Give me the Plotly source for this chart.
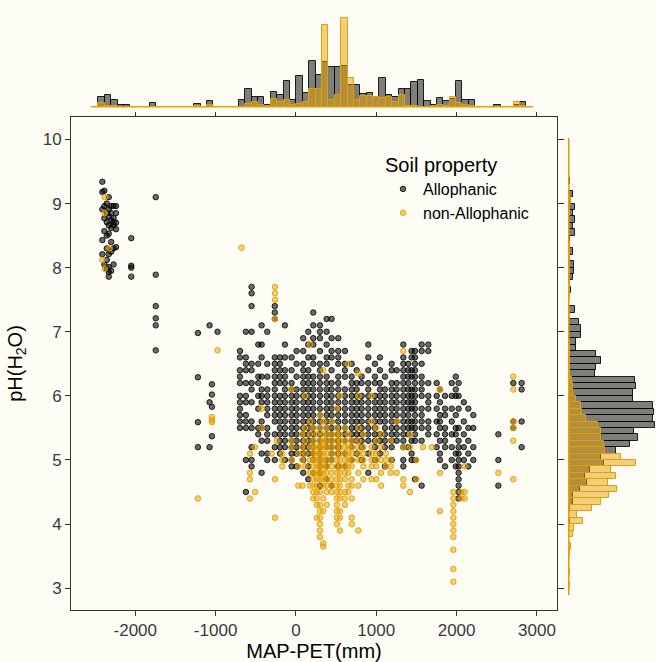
import plotly.graph_objects as go

# ---------------- data ----------------
# Scatter: each column = one MAP-PET value (mm) with the pH(H2O) values observed there
allo_col_x = [-2410, -2385, -2355, -2330, -2300, -2270, -2240, -2050, -1745, -1220, -1075, -1046, -976,
              -697, -623, -552, -469, -427, -357, -263, -199, -137, -54, 8, 91, 154, 216, 299, 382, 444,
              527, 610, 694, 756, 818, 901, 984, 1046, 1108, 1192, 1254, 1337, 1399, 1440, 1482, 1565,
              1648, 1752, 1793, 1856, 1940, 1990, 2025, 2090, 2146, 2208, 2520, 2706, 2810]
allo_col_y = [
    "9.34 9.18 8.91 8.43 8.21",
    "9.20 8.96 8.77 8.57 8.05",
    "9.00 8.85 8.71 8.50 8.30 8.12 7.98",
    "9.10 8.91 8.80 8.66 8.53 8.21 8.01 7.93 7.86",
    "8.96 8.85 8.74 8.62 8.40 8.25 7.95",
    "8.96 8.77 8.71 8.66 8.30 8.05",
    "8.96 8.85 8.70 8.60 8.32",
    "8.46 8.03 8.00 7.86",
    "9.10 7.89 7.40 7.21 7.10 6.71",
    "6.98 6.29 5.59 5.20",
    "7.10 5.90 5.20",
    "6.18 6.02 5.83 5.37",
    "7.00",
    "6.7 6.6 6.4 6.3 6.2 6.0 5.9 5.8 5.7 5.6 5.5",
    "7.0 6.6 6.5 6.4 6.2 6.0 5.9 5.7 5.6 5.5 5.0 4.5",
    "7.7 7.6 7.4 7.0 6.5 6.4 6.2 6.1 5.9 5.6 5.5 5.2 5.0 4.9",
    "6.8 6.5 6.3 6.2 6.0 5.8 5.5 5.4",
    "7.1 6.8 6.6 6.3 6.1 6.0 5.9 5.6 5.5 5.3 5.1 4.8",
    "7.0 6.5 6.3 6.1 6.0 5.9 5.8 5.7 5.5 5.4 5.3 5.1 5.0",
    "7.4 7.3 7.2 6.6 6.5 6.4 6.3 6.2 6.1 6.0 5.9 5.8 5.7 5.6 5.4 5.2 5.0",
    "6.6 6.5 6.4 6.3 6.2 6.0 5.9 5.8 5.7 5.6 5.5 5.4 5.3 5.2 5.1",
    "7.1 6.8 6.6 6.4 6.3 6.2 6.1 6.0 5.9 5.8 5.7 5.6 5.5 5.4 5.3 5.2 5.0",
    "6.6 6.4 6.2 6.1 6.0 5.9 5.8 5.7 5.6 5.5 5.4 5.3 5.2 5.1 5.0 4.9",
    "6.7 6.5 6.3 6.1 6.0 5.9 5.8 5.7 5.6 5.5 5.4 5.3 5.2 5.1 4.9",
    "6.9 6.7 6.5 6.4 6.3 6.2 6.1 6.0 5.9 5.8 5.7 5.6 5.5 5.4 5.3 5.2 5.1 5.0 4.8",
    "7.0 6.8 6.6 6.4 6.3 6.2 6.1 6.0 5.9 5.8 5.7 5.6 5.5 5.4 5.3 5.2 5.1 4.9 4.7",
    "7.3 7.1 6.9 6.8 6.6 6.5 6.3 6.2 6.1 6.0 5.9 5.8 5.7 5.6 5.5 5.4 5.3 5.2 5.1 5.0 4.8",
    "7.1 7.0 6.9 6.7 6.5 6.4 6.3 6.2 6.1 6.0 5.9 5.8 5.7 5.6 5.5 5.4 5.3 5.2 5.1 5.0 4.9 4.8 4.6",
    "7.2 7.0 6.8 6.6 6.5 6.3 6.2 6.1 6.0 5.9 5.8 5.7 5.6 5.5 5.4 5.3 5.2 5.0 4.9 4.7",
    "7.2 6.9 6.7 6.6 6.4 6.2 6.1 6.0 5.9 5.8 5.7 5.6 5.5 5.4 5.3 5.2 5.1 5.0 4.6",
    "6.9 6.7 6.6 6.5 6.3 6.2 6.1 6.0 5.9 5.8 5.7 5.6 5.5 5.4 5.3 5.2 5.1 4.9",
    "6.7 6.5 6.4 6.3 6.1 6.0 5.9 5.8 5.7 5.6 5.5 5.4 5.3 5.1 4.9",
    "6.5 6.3 6.2 6.1 6.0 5.9 5.8 5.7 5.6 5.5 5.4 5.3 5.2 5.0",
    "6.4 6.2 6.1 6.0 5.9 5.8 5.7 5.6 5.5 5.4 5.3 5.1",
    "6.3 6.2 6.0 5.9 5.8 5.7 5.6 5.5 5.4 5.3 5.2 5.0",
    "6.8 6.6 6.4 6.2 6.1 6.0 5.9 5.8 5.7 5.6 5.5 5.4 5.3 5.1 4.8",
    "6.5 6.3 6.2 6.0 5.9 5.8 5.7 5.6 5.5 5.4 5.3 5.2 5.0",
    "6.6 6.4 6.2 6.1 6.0 5.9 5.8 5.7 5.6 5.4 5.3 5.1",
    "6.3 6.1 6.0 5.9 5.8 5.7 5.6 5.5 5.4 5.3 5.2 4.9",
    "6.5 6.4 6.2 6.1 6.0 5.9 5.8 5.7 5.6 5.5 5.4 5.3 5.2 5.0",
    "6.4 6.2 6.1 6.0 5.9 5.8 5.7 5.6 5.5 5.4 5.3",
    "6.8 6.6 6.5 6.4 6.3 6.2 6.1 6.0 5.9 5.8 5.7 5.6 5.5 5.4 5.3 5.2 5.0 4.9",
    "6.5 6.4 6.3 6.2 6.1 6.0 5.9 5.8 5.7 5.6 5.5 5.4 5.2",
    "6.7 6.6 6.4 6.3 6.1 6.0 5.9 5.8 5.6 5.5 5.3 5.1 5.0",
    "6.7 6.6 6.5 6.4 6.3 6.2 6.1 6.0 5.9 5.8 5.7 5.6 5.5 5.4 5.3 5.0 4.7",
    "6.8 6.7 6.5 6.3 6.2 6.1 6.0 5.8 5.7 5.6 5.5 5.3 4.6",
    "6.8 6.7 6.2 6.0 5.9 5.8 5.6 5.5 5.4",
    "6.2 6.0 5.8 5.6 5.4 5.2",
    "6.1 5.9 5.7 5.6 5.5 5.3 5.1 5.0",
    "6.0 5.8 5.7 5.5 5.4 5.3 5.2 4.9",
    "6.2 6.0 5.8 5.6 5.4 5.2 5.0",
    "6.3 6.1 6.0 5.7 5.5 5.4 5.1 4.9",
    "6.2 6.0 5.8 5.5 5.3 5.2 5.1 5.0 4.9 4.8 4.7 4.6 4.5 4.4",
    "5.9 5.6 5.4 5.2 5.0",
    "5.8 5.5 5.3 5.1 4.9",
    "5.7 5.5 5.2 5.0",
    "5.4 5.0 4.6",
    "6.2 5.6 5.5",
    "6.2 6.1 5.6 5.2",
]

non_col_x = [-2410, -2380, -2320, -1220, -1046, -976, -677, -572, -510, -427, -301, -261, -240, -170,
             -54, 30, 80, 112, 175, 216, 260, 299, 340, 382, 444, 510, 548, 610, 652, 694, 777, 840,
             942, 1000, 1060, 1120, 1180, 1254, 1337, 1420, 1500, 1580, 1690, 1793, 1960, 2060, 2100,
             2520, 2706]
non_col_y = [
    "8.12",
    "9.10 8.85 7.98",
    "8.30",
    "4.40",
    "5.67 5.62 5.59",
    "6.71",
    "8.31",
    "5.1 4.8 4.7 4.4",
    "5.2 4.5",
    "5.8 5.5",
    "5.1",
    "7.7 7.6 7.5 7.2 4.7 4.1",
    "5.3",
    "5.1 5.0 4.9",
    "6.1 5.3 5.2 5.0",
    "5.1 4.9 4.6",
    "5.4 5.2 5.0 4.6",
    "6.0 5.5 5.3 5.1 4.9",
    "6.8 5.6 5.4 5.2 5.0 4.8 4.6",
    "5.5 5.3 5.2 5.1 5.0 4.9 4.8 4.7 4.6 4.5 4.4",
    "5.4 5.2 5.1 5.0 4.9 4.8 4.7 4.6 4.5 4.4 4.3 4.1",
    "5.7 5.5 5.3 5.2 5.1 5.0 4.9 4.8 4.7 4.5 4.3 4.2 4.1 4.0 3.9 3.8",
    "6.4 5.6 5.4 5.3 5.2 5.1 5.0 4.9 4.8 4.7 4.6 4.4 4.2 3.7 3.65",
    "5.5 5.4 5.3 5.2 5.1 5.0 4.9 4.8 4.7 4.6 4.5 4.3",
    "5.6 5.4 5.3 5.2 5.1 5.0 4.9 4.8 4.7 4.6 4.5",
    "5.8 5.5 5.4 5.3 5.2 5.1 5.0 4.9 4.8 4.7 4.6 4.5 4.4 4.3 4.2 4.1 4.0",
    "6.0 5.4 5.3 5.2 5.1 5.0 4.9 4.8 4.7 4.6 4.5 4.4 4.2 4.1 3.9",
    "5.5 5.3 5.2 5.1 5.0 4.9 4.8 4.7 4.5 4.4 4.3",
    "6.5 5.4 5.2 5.1 5.0 4.9 4.8 4.6 4.5",
    "5.3 5.2 5.1 5.0 4.9 4.7 4.6 4.4 4.1 4.0",
    "6.35 6.0 5.5 5.3 5.2 5.1 5.0 4.8 4.6 3.9",
    "5.4 5.2 5.1 5.0 4.9 4.7",
    "6.0 5.6 5.2 5.1 5.0 4.9 4.7",
    "5.5 5.3 5.1 5.0 4.9 4.7",
    "5.4 5.2 5.0 4.8 4.6",
    "5.1 5.0 4.9",
    "5.3 5.0 4.9 4.8",
    "5.6 4.8",
    "6.7 5.2 4.7 4.6",
    "5.4 5.2 4.5",
    "5.0 4.7",
    "5.2",
    "5.2",
    "6.1 4.8 4.2",
    "4.5 4.4 4.3 4.2 4.1 4.0 3.9 3.8 3.6 3.3 3.1",
    "4.5 4.4",
    "4.9 4.5 4.4",
    "4.8",
    "6.3 6.1 5.6 5.5 5.3 4.7",
]

# Top marginal histogram (MAP-PET), bin width 79.5 mm, first bin starts at -2538 mm
top_bin_start = -2538.0
top_bin_width = 79.5
top_allo_counts = [0, 14, 16, 10, 3, 3, 0, 0, 0, 6, 0, 0, 0, 0, 0, 0, 4, 0, 8, 0, 0, 0, 0,
                   9, 25, 13, 13, 3, 20, 17, 36, 9, 42, 19, 63, 43, 62, 55, 54, 56, 30, 30, 18,
                   19, 14, 40, 16, 13, 25, 25, 34, 37, 8, 3, 12, 8, 11, 35, 10, 10, 0, 0, 0, 3,
                   0, 0, 3, 7, 0]
top_non_counts = [0, 5, 2, 1, 0, 0, 0, 0, 0, 0, 0, 0, 0, 0, 0, 0, 2, 0, 3, 0, 0, 0, 0,
                  0, 4, 7, 3, 2, 11, 7, 10, 3, 4, 7, 24, 25, 112, 10, 17, 121, 39, 9, 15, 15,
                  14, 12, 13, 7, 16, 1, 1, 0, 0, 1, 3, 1, 13, 6, 3, 1, 0, 0, 0, 0, 0, 0, 7, 1, 0]

# Right marginal histogram (pH), bin width 0.1, first bin starts at pH 2.9
right_bin_start = 2.9
right_bin_width = 0.1
right_allo_counts = [0, 0, 0, 0, 0, 0, 0, 0, 0, 0, 0, 1, 0, 2, 5, 6, 15, 24, 22, 29, 48, 44, 64,
                     83, 94, 88, 118, 115, 116, 115, 87, 87, 92, 90, 35, 37, 43, 37, 10, 10, 17,
                     17, 13, 2, 8, 0, 0, 3, 0, 5, 7, 7, 1, 6, 2, 2, 8, 6, 8, 6, 8, 3, 5, 0, 2,
                     0, 0, 0, 0, 0, 0]
right_non_counts = [0, 1, 0, 1, 0, 0, 1, 3, 0, 6, 7, 19, 11, 32, 44, 54, 66, 53, 64, 57, 92, 71,
                    49, 48, 43, 43, 39, 23, 18, 17, 10, 6, 5, 4, 2, 2, 1, 2, 1, 0, 0, 0, 0, 1,
                    0, 0, 1, 1, 1, 0, 1, 0, 1, 2, 1, 0, 0, 0, 0, 1, 0, 3, 0, 0, 0, 0, 0, 0, 0,
                    0, 0]

x_tick_vals = [-2000, -1000, 0, 1000, 2000, 3000]
x_tick_text = ["-2000", "-1000", "0", "1000", "2000", "3000"]
y_tick_vals = [3, 4, 5, 6, 7, 8, 9, 10]
y_tick_text = ["3", "4", "5", "6", "7", "8", "9", "10"]

series_names = ["Allophanic", "non-Allophanic"]


def expand(cx, cy):
    xs, ys = [], []
    for x, s in zip(cx, cy):
        for v in s.split():
            xs.append(x)
            ys.append(float(v))
    return xs, ys


allo_x, allo_y = expand(allo_col_x, allo_col_y)
non_x, non_y = expand(non_col_x, non_col_y)

top_centers = [top_bin_start + top_bin_width * (i + 0.5) for i in range(len(top_allo_counts))]
top_end = top_bin_start + top_bin_width * len(top_allo_counts)
right_centers = [right_bin_start + right_bin_width * (i + 0.5) for i in range(len(right_allo_counts))]
right_end = right_bin_start + right_bin_width * len(right_allo_counts)

# ---------------- style ----------------
W, H = 656, 662
BG = "#FDFDF6"
FONT = "Liberation Sans, Arial, sans-serif"
ORANGE = "#E69F00"
FRAME = "#333333"

XR = [-2800, 3250]
YR = [2.66, 10.35]
x_dom = [71 / W, 557 / W]
y_dom = [(H - 610) / H, (H - 117) / H]

fig = go.Figure()

# top marginal
fig.add_trace(go.Bar(x=top_centers, y=top_allo_counts, width=top_bin_width, xaxis="x2", yaxis="y2",
                     marker=dict(color="rgba(0,0,0,0.5)", line=dict(color="rgba(0,0,0,0.85)", width=1)),
                     showlegend=False, hoverinfo="skip"))
fig.add_trace(go.Bar(x=top_centers, y=top_non_counts, width=top_bin_width, xaxis="x2", yaxis="y2",
                     marker=dict(color="rgba(230,159,0,0.5)", line=dict(color=ORANGE, width=1)),
                     showlegend=False, hoverinfo="skip"))
fig.add_trace(go.Scatter(x=[top_bin_start, top_end], y=[0, 0], mode="lines", xaxis="x2", yaxis="y2",
                         line=dict(color=ORANGE, width=1.2), showlegend=False, hoverinfo="skip"))

# right marginal
fig.add_trace(go.Bar(y=right_centers, x=right_allo_counts, width=right_bin_width, orientation="h",
                     xaxis="x3", yaxis="y3",
                     marker=dict(color="rgba(0,0,0,0.5)", line=dict(color="rgba(0,0,0,0.85)", width=1)),
                     showlegend=False, hoverinfo="skip"))
fig.add_trace(go.Bar(y=right_centers, x=right_non_counts, width=right_bin_width, orientation="h",
                     xaxis="x3", yaxis="y3",
                     marker=dict(color="rgba(230,159,0,0.5)", line=dict(color=ORANGE, width=1)),
                     showlegend=False, hoverinfo="skip"))
fig.add_trace(go.Scatter(x=[0, 0], y=[right_bin_start, right_end], mode="lines", xaxis="x3", yaxis="y3",
                         line=dict(color=ORANGE, width=1.2), showlegend=False, hoverinfo="skip"))

# main scatter
fig.add_trace(go.Scatter(x=allo_x, y=allo_y, mode="markers", name=series_names[0],
                         marker=dict(size=5.5, color="rgba(0,0,0,0.58)",
                                     line=dict(color="rgba(0,0,0,0.8)", width=1))))
fig.add_trace(go.Scatter(x=non_x, y=non_y, mode="markers", name=series_names[1],
                         marker=dict(size=5.5, color="rgba(230,159,0,0.5)",
                                     line=dict(color="rgba(230,159,0,0.95)", width=1))))

fig.update_layout(
    width=W, height=H, margin=dict(l=0, r=0, t=0, b=0),
    paper_bgcolor=BG, plot_bgcolor=BG, barmode="overlay", bargap=0,
    font=dict(family=FONT, color="black"),
    xaxis=dict(domain=x_dom, range=XR, anchor="y", tickvals=x_tick_vals, ticktext=x_tick_text,
               ticks="outside", ticklen=5, tickcolor=FRAME, showline=True, linecolor=FRAME, linewidth=1,
               mirror=True, showgrid=False, zeroline=False, tickfont=dict(size=17, color="#3a3a3a"),
               automargin=False,
               title=dict(text="MAP-PET(mm)", font=dict(size=20, family=FONT, color="black"), standoff=5)),
    yaxis=dict(domain=y_dom, range=YR, anchor="x", tickvals=y_tick_vals, ticktext=y_tick_text,
               ticks="outside", ticklen=5, tickcolor=FRAME, showline=True, linecolor=FRAME, linewidth=1,
               mirror=True, showgrid=False, zeroline=False, tickfont=dict(size=17, color="#3a3a3a"),
               automargin=False,
               title=dict(text="pH(H<sub>2</sub>O)", font=dict(size=20, family=FONT, color="black"),
                          standoff=14)),
    xaxis2=dict(domain=x_dom, range=XR, anchor="y2", tickvals=x_tick_vals, ticks="outside", ticklen=4,
                tickcolor=FRAME, showticklabels=False, showline=False, showgrid=False, zeroline=False,
                automargin=False),
    yaxis2=dict(domain=[(H - 111) / H, (H - 12) / H], range=[-5.45, 129.6], anchor="x2", visible=False),
    xaxis3=dict(domain=[565 / W, 1.0], range=[-5.45, 118.7], anchor="y3", visible=False),
    yaxis3=dict(domain=y_dom, range=YR, anchor="x3", side="left", tickvals=y_tick_vals, ticks="outside",
                ticklen=6, tickcolor=FRAME, showticklabels=False, showline=False, showgrid=False,
                zeroline=False, automargin=False),
    legend=dict(x=383 / W, y=(H - 146) / H, xanchor="left", yanchor="top", bgcolor="rgba(0,0,0,0)",
                title=dict(text="Soil property", font=dict(size=20, family=FONT, color="black")),
                font=dict(size=16, family=FONT, color="black"), tracegroupgap=0),
)

fig.write_html("out.html")
